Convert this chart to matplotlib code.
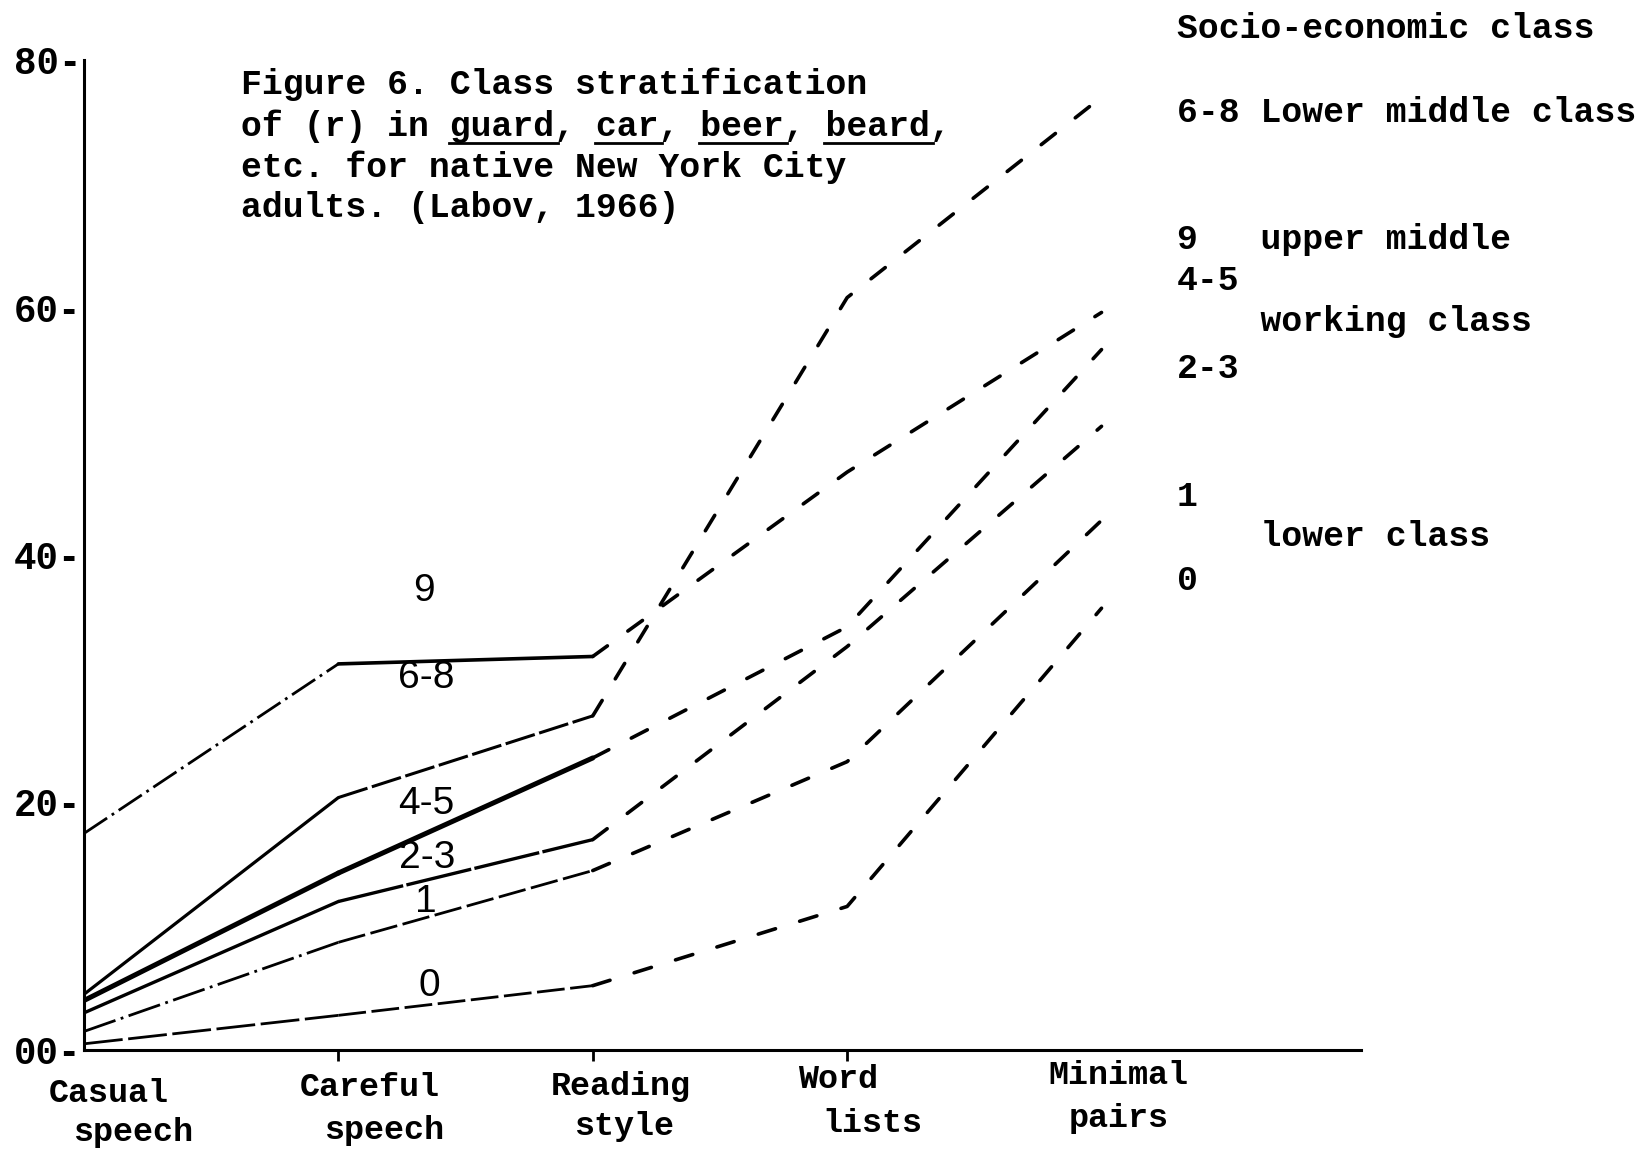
import matplotlib
matplotlib.use("Agg")
import matplotlib.pyplot as plt
from matplotlib.lines import Line2D

# ---------------- data ----------------
style_top = ["Casual", "Careful", "Reading", "Word", "Minimal"]
style_bottom = ["speech", "speech", "style", "lists", "pairs"]

classes = ["9", "6-8", "4-5", "2-3", "1", "0"]
r_9 = [17.5, 31.2, 31.8, 46.7, 59.6]
r_6_8 = [4.5, 20.4, 27.0, 60.8, 77.0]
r_4_5 = [4.0, 14.3, 23.6, 34.2, 56.6]
r_2_3 = [3.0, 12.0, 17.0, 32.6, 50.4]
r_1 = [1.5, 8.7, 14.5, 23.3, 42.8]
r_0 = [0.5, 2.8, 5.2, 11.6, 35.7]

y_ticks = [0, 20, 40, 60, 80]
y_ticklabels = ["00-", "20-", "40-", "60-", "80-"]

title_lines = ["Figure 6. Class stratification",
               "of (r) in guard, car, beer, beard,",
               "etc. for native New York City",
               "adults. (Labov, 1966)"]
underlined_words = ["guard", "car", "beer", "beard"]

legend_lines = ["Socio-economic class",
                "6-8 Lower middle class",
                "9   upper middle",
                "4-5",
                "    working class",
                "2-3",
                "1",
                "    lower class",
                "0"]

# ---------------- layout ----------------
W, H = 1641, 1153
fig = plt.figure(figsize=(W / 100, H / 100), dpi=100)
fig.patch.set_facecolor("white")


def fx(x):
    return x / W


def fy(y):
    return 1 - y / H


ax_left, ax_bottom_px, ax_top_px, ax_right_px = 84, 1050, 60, 1361
ax = fig.add_axes([fx(ax_left), fy(ax_bottom_px),
                   (ax_right_px - ax_left) / W, (ax_bottom_px - ax_top_px) / H])
ax.set_xlim(0, 5.02)
ax.set_ylim(0, 80)
ax.patch.set_alpha(0)

MONO = "Liberation Mono"
SANS = "Liberation Sans"

series = {"9": r_9, "6-8": r_6_8, "4-5": r_4_5, "2-3": r_2_3, "1": r_1, "0": r_0}
# styles of the two left segments (casual->careful, careful->reading)
seg_styles = {
    "9": [dict(lw=2.0, ls=(0, (10, 2, 1, 2))), dict(lw=2.6, ls="-")],
    "6-8": [dict(lw=2.3, ls="-"), dict(lw=2.2, ls=(0, (10, 1.5)))],
    "4-5": [dict(lw=3.6, ls="-"), dict(lw=3.6, ls="-")],
    "2-3": [dict(lw=2.4, ls="-"), dict(lw=2.4, ls=(0, (20, 1)))],
    "1": [dict(lw=2.0, ls=(0, (12, 2, 1, 2))), dict(lw=2.0, ls=(0, (10, 2)))],
    "0": [dict(lw=2.0, ls=(0, (14, 2))), dict(lw=2.0, ls=(0, (10, 2)))],
}
xs = list(range(len(style_top)))
for name in classes:
    vals = series[name]
    for k in range(2):
        st = seg_styles[name][k]
        ax.plot(xs[k:k + 2], vals[k:k + 2], color="black", lw=st["lw"],
                ls=st["ls"], solid_capstyle="round")
    ax.plot(xs[2:], vals[2:], color="black", lw=2.6, ls=(0, (5, 7)),
            dash_capstyle="round")

# spines & ticks
for s in ["top", "right"]:
    ax.spines[s].set_visible(False)
ax.spines["left"].set_linewidth(2.2)
ax.spines["bottom"].set_linewidth(2.2)
ax.set_yticks(y_ticks)
ax.set_yticklabels(y_ticklabels, fontfamily=MONO, fontweight="bold", fontsize=27)
ax.tick_params(axis="y", length=0, pad=2)
ax.set_xticks(xs[1:4])
ax.set_xticklabels([])
ax.tick_params(axis="x", length=8, width=2, direction="out")

# category labels (two staggered lines, typewriter style)
top_pos = [(109, 1094), (370, 1088), (621, 1086), (838, 1080), (1118, 1076)]
bot_pos = [(133, 1133), (384, 1130), (624, 1127), (872, 1123), (1119, 1118)]
for lab, (px, py) in zip(style_top, top_pos):
    fig.text(fx(px), fy(py), lab, ha="center", va="center", fontfamily=MONO,
             fontweight="bold", fontsize=24)
for lab, (px, py) in zip(style_bottom, bot_pos):
    fig.text(fx(px), fy(py), lab, ha="center", va="center", fontfamily=MONO,
             fontweight="bold", fontsize=24)

# class labels on the lines
line_label_pos = {"9": (424, 591), "6-8": (426, 678), "4-5": (426, 804),
                  "2-3": (427, 858), "1": (426, 902), "0": (429, 986)}
for name in classes:
    px, py = line_label_pos[name]
    fig.text(fx(px), fy(py), name, ha="center", va="center", fontfamily=SANS,
             fontsize=28)

# title block with underlines
fs_title = 25
cw = fs_title * 100 / 72 * 0.6
tx0 = 241
baselines = [94, 136, 177, 217]
for line, by in zip(title_lines, baselines):
    fig.text(fx(tx0), fy(by), line, ha="left", va="baseline", fontfamily=MONO,
             fontweight="bold", fontsize=fs_title)
line2 = title_lines[1]
for w in underlined_words:
    i = line2.index(w)
    x0 = tx0 + i * cw
    x1 = tx0 + (i + len(w)) * cw + 4
    uy = baselines[1] + 7
    fig.add_artist(Line2D([fx(x0), fx(x1)], [fy(uy), fy(uy)],
                          transform=fig.transFigure, color="black", lw=2))

# right-hand legend
leg_y = [29, 113, 239, 280, 321, 368, 497, 536, 581]
for line, ly in zip(legend_lines, leg_y):
    fig.text(fx(1177), fy(ly), line, ha="left", va="center", fontfamily=MONO,
             fontweight="bold", fontsize=25)

fig.savefig("out.png", dpi=100, facecolor="white")
